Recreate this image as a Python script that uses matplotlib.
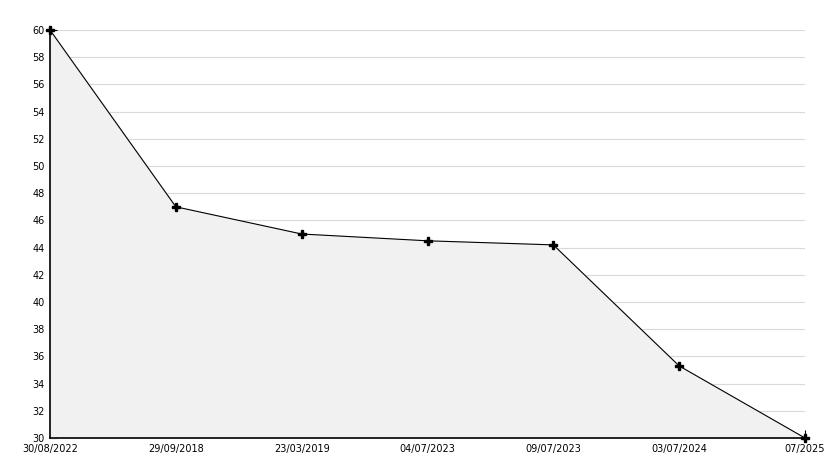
import matplotlib
matplotlib.use("Agg")
import matplotlib.pyplot as plt
from matplotlib.ticker import MultipleLocator

categories = ["30/08/2022", "29/09/2018", "23/03/2019", "04/07/2023", "09/07/2023", "03/07/2024", "07/2025"]
values = [60, 47, 45, 44.5, 44.2, 35.3, 30]

W, H = 834, 468
fig = plt.figure(figsize=(W / 100, H / 100), dpi=100)
ax = fig.add_axes([50 / W, (H - 438) / H, 755 / W, 408 / H])

x = list(range(len(categories)))
ax.fill_between(x, values, 30, color="#f1f1f1", zorder=1)
ax.plot(x, values, color="black", lw=0.8, zorder=3)
ax.plot(x, values, ls="none", marker="P", ms=5.5, color="black", zorder=5, clip_on=False)

ax.set_xlim(0, len(categories) - 1)
ax.set_ylim(30, 60)
ax.yaxis.set_major_locator(MultipleLocator(2))
ax.yaxis.set_minor_locator(MultipleLocator(1))
ax.set_xticks(x)
ax.set_xticklabels(categories)
ax.grid(axis="y", which="major", color="#d9d9d9", lw=0.8, zorder=0)
ax.set_axisbelow(True)

for s in ["top", "right"]:
    ax.spines[s].set_visible(False)
for s in ["left", "bottom"]:
    ax.spines[s].set_linewidth(1.2)

ax.tick_params(axis="y", which="major", direction="in", length=5, labelsize=7, pad=4)
ax.tick_params(axis="y", which="minor", direction="in", length=4)
ax.tick_params(axis="x", direction="in", length=6, labelsize=7, pad=4)

fig.savefig("out.png", dpi=100)
